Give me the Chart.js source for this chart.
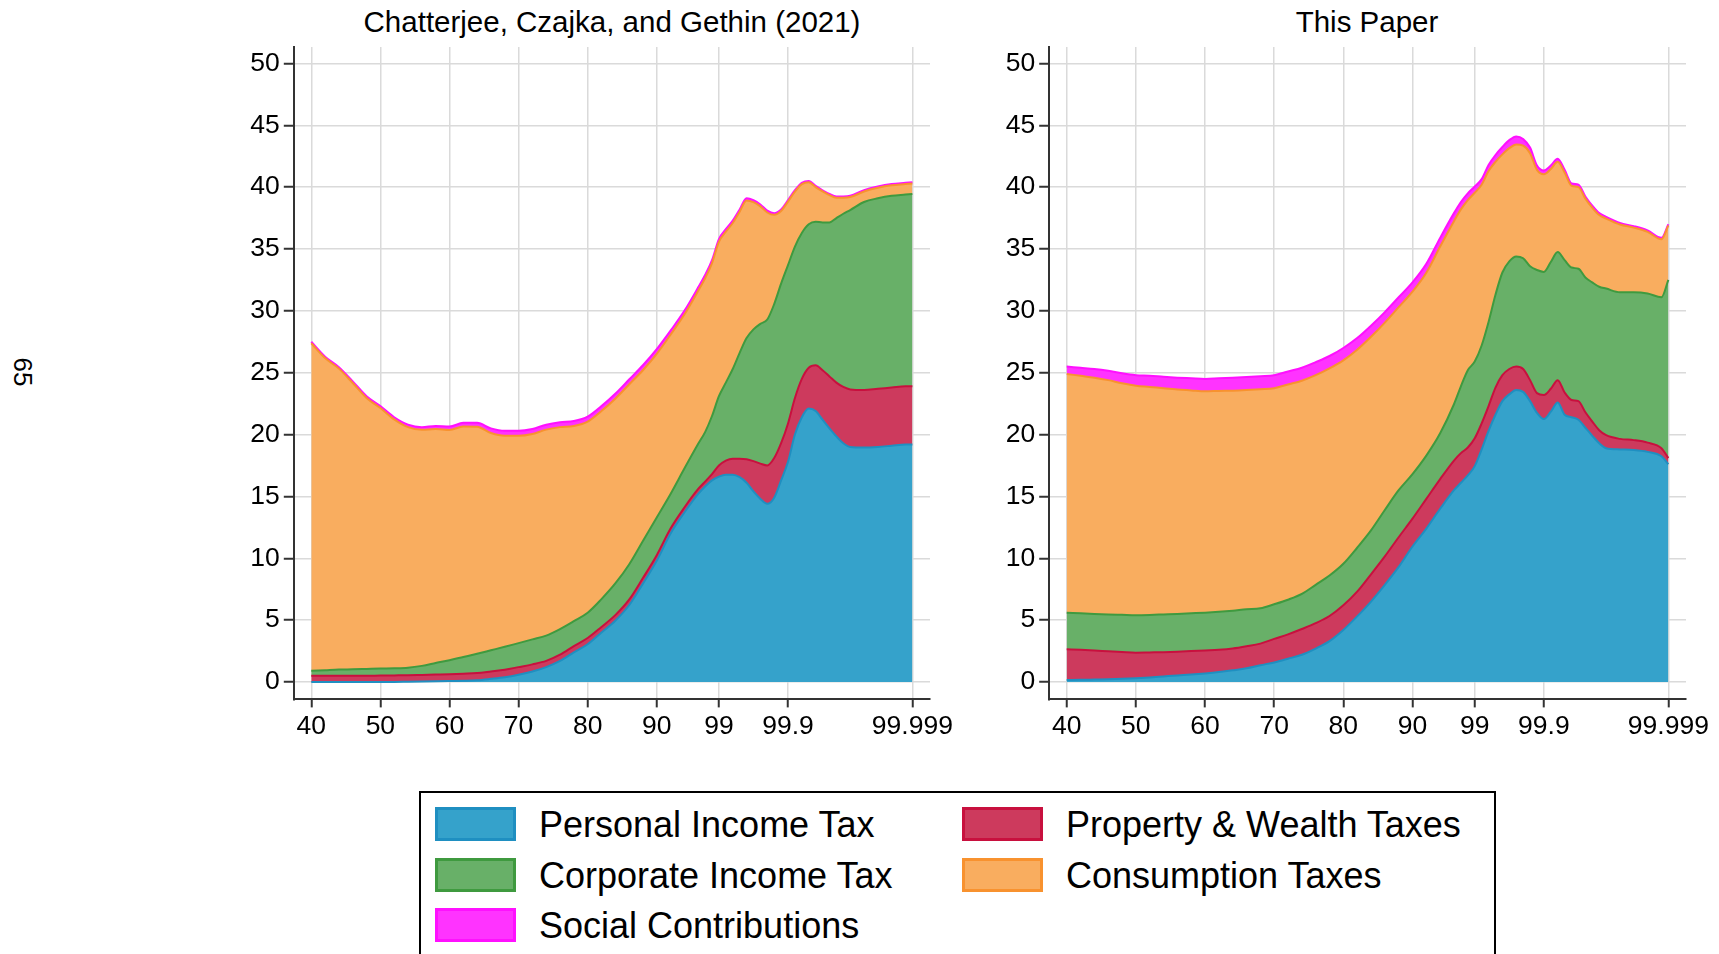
<!DOCTYPE html>
<html>
<head>
<meta charset="utf-8">
<script src="https://cdn.jsdelivr.net/npm/chart.js@4.4.1/dist/chart.umd.min.js"></script>
<style>
  html, body { margin: 0; padding: 0; background: #fff; }
  body {
    width: 1719px; height: 954px; position: relative; overflow: hidden;
    font-family: "Liberation Sans", Arial, sans-serif; color: #000;
  }
  canvas { position: absolute; top: 0; }
  .title {
    position: absolute; top: 3px; width: 800px; text-align: center;
    font-size: 29.5px; line-height: 38px; white-space: nowrap;
  }
  .pageno {
    position: absolute; left: 22px; top: 372px; font-size: 26px;
    transform: translate(-50%, -50%) rotate(90deg);
  }
  #legend {
    position: absolute; left: 419px; top: 791px; width: 1077px; height: 200px;
    border: 2px solid #000; box-sizing: border-box;
  }
  .sw { position: absolute; width: 81px; height: 34px; box-sizing: border-box; border: 3px solid; }
  .lt { position: absolute; font-size: 36px; line-height: 44px; white-space: nowrap; }
</style>
</head>
<body>

<div class="pageno">65</div>
<div class="title" style="left:212px">Chatterjee, Czajka, and Gethin (2021)</div>
<div class="title" style="left:967px">This Paper</div>

<canvas id="ccgChart" width="780" height="760" style="left:180px"></canvas>
<canvas id="paperChart" width="780" height="760" style="left:936px"></canvas>

<div id="legend"></div>

<script>
// Position des groupes de percentiles sur l'axe (échelle par rang)
const pctIndex = [0, 2, 4, 6, 8, 10, 12, 14, 16, 18, 20, 22, 24, 26, 28, 30, 32, 34, 36, 38, 40, 42, 44, 46, 48, 50,
  52, 54, 56, 57, 58, 59, 60, 61, 62, 63, 64, 65, 66, 67, 68, 69, 70, 71, 72, 73, 74, 75, 76, 77, 78, 80, 82, 84, 86, 87];
const tickPos = [0, 10, 20, 30, 40, 50, 59, 69, 87];
const tickLabels = ['40', '50', '60', '70', '80', '90', '99', '99.9', '99.999'];
const yTicks = [0, 5, 10, 15, 20, 25, 30, 35, 40, 45, 50];

const seriesNames = ['Personal Income Tax', 'Property & Wealth Taxes', 'Corporate Income Tax',
  'Consumption Taxes', 'Social Contributions'];

// Chatterjee, Czajka, and Gethin (2021)
const ccgPersonal = [0, 0, 0, 0, 0, 0, 0, 0.02, 0.04, 0.06, 0.08, 0.1, 0.14,
  0.25, 0.38, 0.58, 0.84, 1.2, 1.7, 2.4, 3.05, 4.0, 4.95, 6.2, 7.95, 9.8,
  12.0, 13.7, 15.2,
  15.8, 16.3, 16.6, 16.75, 16.75, 16.55, 16.1, 15.4, 14.8, 14.4, 14.9, 16.3, 17.8, 20.0, 21.4, 22.1, 21.9, 21.2, 20.5, 19.85, 19.3, 19.0,
  18.95, 19.0, 19.1, 19.2, 19.2];
const ccgProperty = [0.5, 0.5, 0.5, 0.5, 0.5, 0.52, 0.53, 0.52, 0.53, 0.54, 0.55, 0.57, 0.58,
  0.6, 0.61, 0.62, 0.58, 0.5, 0.5, 0.5, 0.5, 0.45, 0.45, 0.45, 0.45, 0.45,
  0.4, 0.4, 0.4,
  0.4, 0.5, 0.9, 1.15, 1.3, 1.5, 1.9, 2.45, 2.85, 3.1, 3.2, 3.0, 3.1, 2.95, 3.1, 3.3, 3.7, 4.0, 4.2, 4.35, 4.55, 4.65,
  4.65, 4.7, 4.7, 4.7, 4.7];
const ccgCorporate = [0.4, 0.45, 0.5, 0.52, 0.55, 0.56, 0.57, 0.61, 0.73, 0.93, 1.13, 1.35, 1.56,
  1.71, 1.85, 1.94, 2.02, 2.05, 2.08, 2.02, 2.05, 2.25, 2.56, 2.85, 3.0, 3.05,
  2.8, 3.15, 3.65,
  4.0, 4.7, 5.6, 6.3, 7.25, 8.55, 9.8, 10.65, 11.3, 11.8, 12.45, 12.9, 12.8, 12.25, 11.8, 11.6, 11.6, 11.95, 12.45, 13.3, 14.0, 14.5,
  15.2, 15.4, 15.5, 15.5, 15.55];
const ccgConsumption = [26.48, 25.23, 24.33, 23.15, 21.91, 21.07, 20.13, 19.45, 19.08, 18.92, 18.61, 18.63, 18.35,
  17.56, 17.06, 16.76, 16.61, 16.65, 16.32, 15.78, 15.45, 15.2, 14.94, 14.55, 13.8, 13.22,
  12.87, 12.45, 12.37,
  12.44, 12.36, 12.48, 12.2, 11.8, 11.42, 11.13, 10.29, 9.5, 8.65, 7.21, 5.87, 5.13, 4.43, 3.94, 3.4, 2.8, 2.5, 2.2, 1.65, 1.3, 1.05,
  0.85, 0.85, 0.85, 0.85, 0.85];
const ccgSocial = [0.12, 0.12, 0.12, 0.13, 0.14, 0.15, 0.17, 0.2, 0.22, 0.25, 0.28, 0.3, 0.32,
  0.38, 0.4, 0.4, 0.4, 0.4, 0.4, 0.4, 0.4, 0.4, 0.4, 0.4, 0.4, 0.38,
  0.33, 0.3, 0.28,
  0.26, 0.24, 0.22, 0.2, 0.2, 0.18, 0.17, 0.16, 0.15, 0.15, 0.14, 0.13, 0.12, 0.12, 0.11, 0.1, 0.1, 0.1, 0.1, 0.1, 0.1, 0.1,
  0.1, 0.1, 0.1, 0.1, 0.1];

// This Paper
const paperPersonal = [0.16, 0.17, 0.19, 0.21, 0.25, 0.3, 0.37, 0.45, 0.53, 0.6, 0.69, 0.8, 0.94,
  1.1, 1.35, 1.58, 1.88, 2.2, 2.7, 3.3, 4.2, 5.3, 6.5, 7.85, 9.3, 10.95,
  12.4, 14.0, 15.5,
  16.1, 16.7, 17.45, 18.8, 20.3, 21.6, 22.7, 23.25, 23.6, 23.45, 22.7, 21.75, 21.25, 21.85, 22.6, 21.6, 21.4, 21.2, 20.55, 19.9, 19.3, 18.9,
  18.8, 18.75, 18.6, 18.25, 17.6];
const paperProperty = [2.48, 2.43, 2.36, 2.27, 2.17, 2.07, 2.02, 1.96, 1.92, 1.9, 1.86, 1.8, 1.76,
  1.78, 1.75, 1.9, 1.97, 2.08, 2.05, 2.03, 2.0, 2.0, 2.2, 2.3, 2.4, 2.25,
  2.4, 2.4, 2.4,
  2.4, 2.25, 2.25, 2.1, 2.0, 2.2, 2.1, 2.05, 1.9, 1.85, 1.7, 1.6, 1.95, 1.85, 1.8, 1.8, 1.4, 1.5, 1.25, 1.15, 1.05, 1.05,
  0.85, 0.8, 0.75, 0.65, 0.5];
const paperCorporate = [2.96, 2.95, 2.95, 2.98, 3.01, 3.03, 3.03, 3.05, 3.05, 3.05, 3.05, 3.07, 3.06,
  2.99, 2.85, 2.8, 2.8, 2.84, 3.1, 3.27, 3.35, 3.55, 3.55, 3.75, 3.8, 3.6,
  3.5, 3.7, 4.55,
  5.4, 6.25, 6.2, 6.3, 6.8, 7.5, 8.3, 8.7, 8.9, 8.95, 9.2, 9.95, 9.95, 10.25, 10.35, 10.7, 10.7, 10.7, 10.9, 11.25, 11.6, 11.85,
  11.85, 11.95, 12.05, 12.2, 14.4];
const paperConsumption = [19.3, 19.2, 19.1, 18.94, 18.72, 18.55, 18.43, 18.28, 18.14, 18.02, 17.9, 17.86, 17.79,
  17.73, 17.72, 17.47, 17.4, 17.23, 16.95, 16.75, 16.45, 16.0, 15.65, 15.15, 14.8, 14.75,
  14.78, 15.1, 14.8,
  14.3, 13.75, 13.65, 13.0, 12.2, 10.75, 9.55, 9.15, 9.05, 9.1, 9.15, 8.1, 7.9, 7.52, 7.3, 7.08, 6.6, 6.6, 6.37, 6.04, 5.8, 5.66,
  5.48, 5.23, 4.98, 4.68, 4.4];
const paperSocial = [0.6, 0.65, 0.7, 0.75, 0.8, 0.85, 0.9, 0.93, 0.96, 0.98, 1.0, 1.02, 1.05,
  1.05, 1.05, 1.05, 1.05, 1.05, 1.05, 1.0, 1.0, 0.95, 0.9, 0.85, 0.8, 0.75,
  0.72, 0.7, 0.65,
  0.6, 0.55, 0.5, 0.45, 0.5, 0.55, 0.6, 0.65, 0.65, 0.55, 0.45, 0.35, 0.3, 0.28, 0.25, 0.22, 0.2, 0.2, 0.18, 0.16, 0.15, 0.14,
  0.12, 0.12, 0.12, 0.12, 0.1];

// Couleurs (remplissage / contour)
const fillColors = ['#35a2cb', '#cd3a5d', '#68b068', '#f9ad5f', '#ff33ff'];
const lineColors = ['#1f8fc1', '#c8103e', '#3f9a3f', '#f8922f', '#ff10ff'];

const tickFont = { family: '"Liberation Sans", Arial, sans-serif', size: 26.5 };

function makeChart(id, series, yWidth) {
  const datasets = series.map((vals, i) => ({
    label: seriesNames[i],
    data: pctIndex.map((x, j) => ({ x: x, y: vals[j] })),
    backgroundColor: fillColors[i],
    borderColor: lineColors[i],
    borderWidth: 2,
    fill: i === 0 ? 'origin' : '-1',
    pointRadius: 0,
    cubicInterpolationMode: 'monotone'
  }));

  new Chart(document.getElementById(id), {
    type: 'line',
    data: { datasets: datasets },
    options: {
      responsive: false,
      animation: false,
      layout: { padding: { top: 47, right: 30, left: 0, bottom: 0 } },
      plugins: { legend: { display: false }, tooltip: { enabled: false } },
      scales: {
        x: {
          type: 'linear',
          min: -2.53,
          max: 89.55,
          afterBuildTicks: (axis) => { axis.ticks = tickPos.map(v => ({ value: v })); },
          afterFit: (s) => { s.height = 60.6; s.paddingLeft = 0; s.paddingRight = 0; },
          ticks: {
            callback: (v) => tickLabels[tickPos.indexOf(v)],
            font: tickFont, color: '#000', padding: 3, maxRotation: 0, autoSkip: false
          },
          grid: { color: '#dadada', lineWidth: 1.5, tickColor: '#333', tickLength: 8, tickWidth: 2 },
          border: { color: '#333', width: 2 }
        },
        y: {
          stacked: true,
          min: -1.41,
          max: 51.33,
          afterBuildTicks: (axis) => { axis.ticks = yTicks.map(v => ({ value: v })); },
          afterFit: (s) => { s.width = yWidth; s.paddingTop = 0; s.paddingBottom = 0; },
          ticks: { font: tickFont, color: '#000', padding: 4 },
          grid: { color: '#dadada', lineWidth: 1.5, tickColor: '#333', tickLength: 10, tickWidth: 2 },
          border: { color: '#333', width: 2 }
        }
      }
    }
  });
}

makeChart('ccgChart', [ccgPersonal, ccgProperty, ccgCorporate, ccgConsumption, ccgSocial], 113.8);
makeChart('paperChart', [paperPersonal, paperProperty, paperCorporate, paperConsumption, paperSocial], 113.2);

// Légende commune (2 colonnes)
const legend = document.getElementById('legend');
seriesNames.forEach((name, k) => {
  const col = k % 2, row = Math.floor(k / 2);
  const sw = document.createElement('div');
  sw.className = 'sw';
  sw.style.left = (col === 0 ? 14 : 541) + 'px';
  sw.style.top = (14 + row * 50.5) + 'px';
  sw.style.background = fillColors[k];
  sw.style.borderColor = lineColors[k];
  legend.appendChild(sw);
  const lt = document.createElement('div');
  lt.className = 'lt';
  lt.style.left = (col === 0 ? 118 : 645) + 'px';
  lt.style.top = (10 + row * 50.5) + 'px';
  lt.textContent = name;
  legend.appendChild(lt);
});
</script>
</body>
</html>
